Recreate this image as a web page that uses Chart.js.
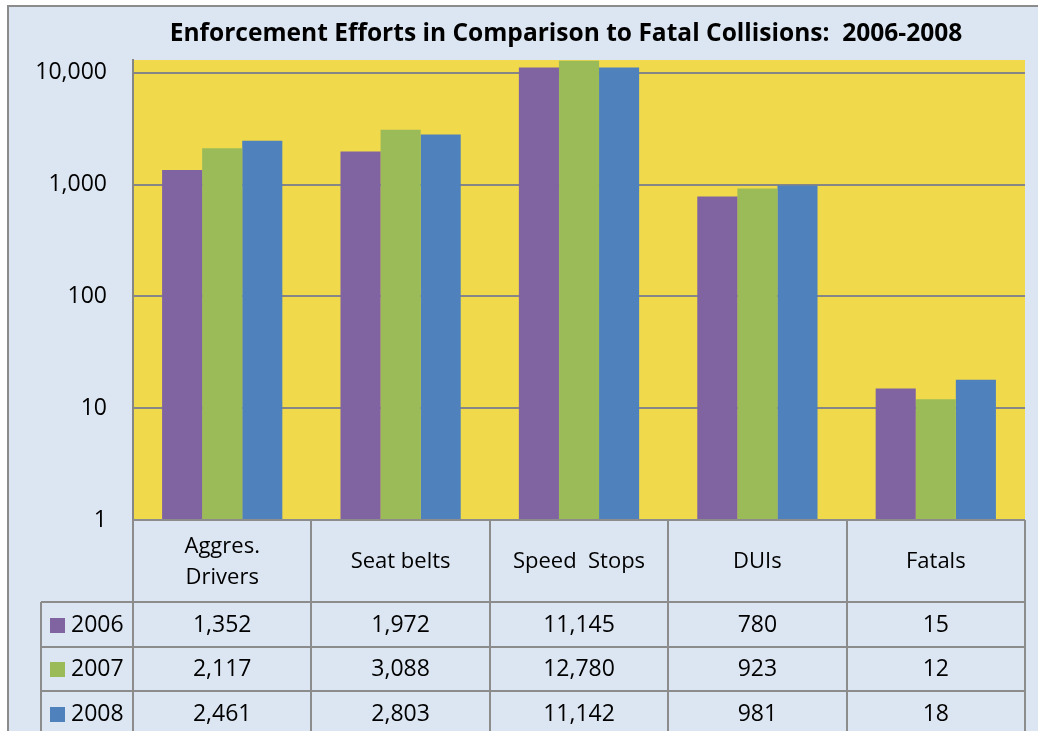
<!DOCTYPE html>
<html>
<head>
<meta charset="utf-8">
<script src="https://cdn.jsdelivr.net/npm/chart.js@4/dist/chart.umd.min.js"></script>
<style>
  html, body { margin: 0; padding: 0; background: #ffffff; }
  #wrap { width: 1038px; height: 731px; position: relative; }
</style>
</head>
<body>
<div id="wrap"><canvas id="c" width="1038" height="731"></canvas></div>
<script>
const chartTitle = 'Enforcement Efforts in Comparison to Fatal Collisions:  2006-2008';
const categories = [['Aggres.', 'Drivers'], 'Seat belts', 'Speed  Stops', 'DUIs', 'Fatals'];
const seriesNames = ['2006', '2007', '2008'];
const values2006 = [1352, 1972, 11145, 780, 15];
const values2007 = [2117, 3088, 12780, 923, 12];
const values2008 = [2461, 2803, 11142, 981, 18];
const yTicks = [1, 10, 100, 1000, 10000];

const COLORS = ['#8064a2', '#9bbb59', '#4f81bd'];
const BG = '#dce6f2';
const PLOT = '#f0d94b';
const LINE = '#8c8c8c';
const FONT = '"Open Sans", "Noto Sans", sans-serif';
const allSeries = [values2006, values2007, values2008];

const fmt = v => v.toLocaleString('en-US');

const framePlugin = {
  id: 'frame',
  beforeDraw(chart) {
    const ctx = chart.ctx, a = chart.chartArea;
    ctx.save();
    ctx.fillStyle = '#ffffff';
    ctx.fillRect(0, 0, chart.width, chart.height);
    ctx.fillStyle = BG;
    ctx.fillRect(8, 6, chart.width - 8, chart.height - 6);
    ctx.strokeStyle = LINE;
    ctx.lineWidth = 2;
    ctx.beginPath();
    ctx.moveTo(8, chart.height); ctx.lineTo(8, 6); ctx.lineTo(chart.width, 6);
    ctx.stroke();
    ctx.fillStyle = PLOT;
    ctx.fillRect(a.left, a.top, a.right - a.left, a.bottom - a.top);
    // title, fitted to the reference width
    ctx.fillStyle = '#000000';
    ctx.font = 'bold 22px ' + FONT;
    const mw = ctx.measureText(chartTitle).width;
    const size = Math.min(26, 22 * 793 / mw);
    ctx.font = 'bold ' + size.toFixed(2) + 'px ' + FONT;
    ctx.textAlign = 'center';
    ctx.textBaseline = 'alphabetic';
    ctx.fillText(chartTitle, 566, 41);
    ctx.restore();
  },
  afterDraw(chart) {
    const ctx = chart.ctx, a = chart.chartArea, xs = chart.scales.x;
    const n = categories.length;
    const w = (xs.right - xs.left) / n;
    const top = a.bottom, headH = 82, rowH = 44.5;
    const legL = 41;
    const bottom = chart.height + 5;
    ctx.save();
    ctx.strokeStyle = LINE;
    ctx.lineWidth = 2;
    ctx.beginPath();
    for (let i = 0; i <= n; i++) {
      const x = Math.round(xs.left + i * w);
      ctx.moveTo(x, top); ctx.lineTo(x, bottom);
    }
    ctx.moveTo(xs.left, top); ctx.lineTo(xs.right, top);
    for (let r = 0; r <= seriesNames.length; r++) {
      const y = Math.round(top + headH + r * rowH);
      ctx.moveTo(legL, y); ctx.lineTo(xs.right, y);
    }
    ctx.moveTo(legL, top + headH); ctx.lineTo(legL, bottom);
    ctx.stroke();

    ctx.fillStyle = '#000000';
    ctx.font = '22px ' + FONT;
    ctx.textAlign = 'center';
    ctx.textBaseline = 'middle';
    categories.forEach((c, i) => {
      const cx = xs.getPixelForValue(i);
      const lines = Array.isArray(c) ? c : [c];
      const lh = 31;
      const cy = top + headH / 2 + 1;
      lines.forEach((t, k) => {
        ctx.fillText(t, cx, cy + (k - (lines.length - 1) / 2) * lh);
      });
    });
    ctx.font = '23px ' + FONT;
    seriesNames.forEach((s, r) => {
      const cy = top + headH + r * rowH + rowH / 2 + 1;
      ctx.fillStyle = COLORS[r];
      ctx.fillRect(50, Math.round(cy - 7.5), 15, 15);
      ctx.fillStyle = '#000000';
      ctx.textAlign = 'left';
      ctx.fillText(s, 71, cy);
      ctx.textAlign = 'center';
      allSeries[r].forEach((v, i) => {
        ctx.fillText(fmt(v), xs.getPixelForValue(i), cy);
      });
    });
    ctx.restore();
  }
};

new Chart(document.getElementById('c'), {
  type: 'bar',
  data: {
    labels: categories.map(c => Array.isArray(c) ? c.join(' ') : c),
    datasets: seriesNames.map((s, i) => ({
      label: s,
      data: allSeries[i],
      backgroundColor: COLORS[i],
      borderWidth: 0,
      categoryPercentage: 0.674,
      barPercentage: 1.0
    }))
  },
  options: {
    responsive: false,
    animation: false,
    devicePixelRatio: 1,
    layout: { padding: { top: 60, right: 13, bottom: 211, left: 0 } },
    plugins: {
      legend: { display: false },
      title: { display: false },
      tooltip: { enabled: false }
    },
    scales: {
      x: {
        display: true,
        ticks: { display: false },
        grid: { display: false, drawTicks: false },
        border: { display: false }
      },
      y: {
        type: 'logarithmic',
        min: 1,
        max: 13000,
        afterFit(scale) { scale.width = 133; },
        afterBuildTicks(scale) { scale.ticks = yTicks.map(v => ({ value: v })); },
        ticks: {
          padding: 26,
          color: '#000000',
          font: { family: FONT, size: 23 },
          callback: v => fmt(v)
        },
        grid: { color: '#868686', lineWidth: 2, drawTicks: false },
        border: { display: true, color: '#868686', width: 2 }
      }
    }
  },
  plugins: [framePlugin]
});
</script>
</body>
</html>
